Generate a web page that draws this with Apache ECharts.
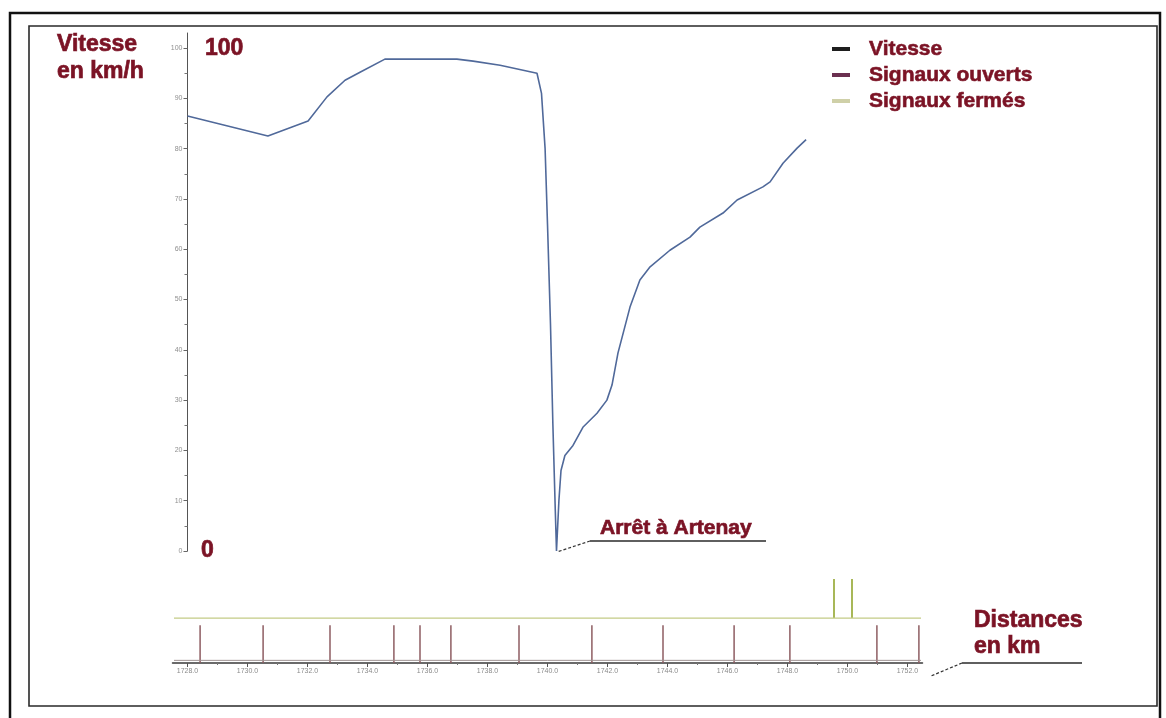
<!DOCTYPE html>
<html>
<head>
<meta charset="utf-8">
<style>
  html, body { margin: 0; padding: 0; background: #fff; }
  #chart { width: 1166px; height: 718px; }
</style>
<script src="https://cdn.jsdelivr.net/npm/echarts@6/dist/echarts.min.js"></script>
</head>
<body>
<div id="chart"></div>
<script>
// Speed profile along the line (km point, speed in km/h)
const distanceKm = [
  1728.0, 1730.68, 1732.02, 1732.65, 1733.25, 1733.75, 1734.58, 1736.98, 1737.52, 1738.42,
  1739.65, 1739.8, 1739.92, 1740.0, 1740.1, 1740.18, 1740.26, 1740.3, 1740.38, 1740.45,
  1740.58, 1740.85, 1741.18, 1741.65, 1741.98, 1742.15, 1742.35, 1742.75, 1743.08, 1743.42,
  1744.08, 1744.75, 1745.08, 1745.85, 1746.32, 1747.18, 1747.42, 1747.85, 1748.32, 1748.62
];
const speedKmh = [
  86.5, 82.5, 85.5, 90.3, 93.6, 95.2, 97.8, 97.8, 97.4, 96.6,
  95.0, 91, 80, 65, 45, 25, 8, 0, 10, 16,
  19, 21, 24.6, 27.4, 30, 33, 39.4, 48.5, 53.9, 56.5,
  59.8, 62.4, 64.4, 67.2, 69.8, 72.4, 73.4, 77.1, 80.1, 81.8
];

// Signal positions (km)
const openSignalsKm = [
  1728.42, 1730.52, 1732.75, 1734.88, 1735.75, 1736.78, 1739.05,
  1741.48, 1743.85, 1746.22, 1748.08, 1750.98, 1752.38
];
const closedSignalsKm = [1749.55, 1750.15];

// Tick labels
const speedTicks = [0, 10, 20, 30, 40, 50, 60, 70, 80, 90, 100];
const speedMinorTicks = [5, 15, 25, 35, 45, 55, 65, 75, 85, 95];
const kmTicks = [1728, 1730, 1732, 1734, 1736, 1738, 1740, 1742, 1744, 1746, 1748, 1750, 1752];
const kmMinorTicks = [1729, 1731, 1733, 1735, 1737, 1739, 1741, 1743, 1745, 1747, 1749, 1751];

// Extent of the signal tracks (km)
const trackKm = [1727.55, 1752.45];

const RED = '#7b1325';
const FONT = '"Liberation Sans", Arial, sans-serif';

// Track levels inside the signal strip (0..100)
const OPEN_TOP = 43, CLOSED_BASE = 51, CLOSED_TOP = 95.5;

const chart = echarts.init(document.getElementById('chart'), null, { renderer: 'canvas' });

function signalItem(color, width) {
  return function (params, api) {
    const p0 = api.coord([api.value(0), api.value(1)]);
    const p1 = api.coord([api.value(0), api.value(2)]);
    return {
      type: 'line',
      shape: { x1: p0[0], y1: p0[1], x2: p1[0], y2: p1[1] },
      style: { stroke: color, lineWidth: width }
    };
  };
}

// Heavy dark-red caption text
function caption(text, x, y, size) {
  return {
    type: 'text', x: x, y: y,
    style: {
      text: text, font: 'bold ' + size + 'px ' + FONT, fill: RED,
      stroke: RED, lineWidth: 0.7, verticalAlign: 'middle'
    }
  };
}

const option = {
  animation: false,
  backgroundColor: '#fff',
  grid: [
    { left: 187.5, right: 243.5, top: 33, bottom: 167 },
    { left: 172.5, right: 243.5, top: 575, bottom: 55 }
  ],
  xAxis: [
    { gridIndex: 0, type: 'value', min: 1728, max: 1752.5, show: false },
    {
      gridIndex: 1, type: 'value', min: 1727.5, max: 1752.5, position: 'bottom',
      axisLine: { lineStyle: { color: '#3a3a3a', width: 1.5 } },
      axisTick: { customValues: kmTicks, length: 4, lineStyle: { color: '#555' } },
      axisLabel: {
        customValues: kmTicks, formatter: v => v.toFixed(1),
        fontSize: 7, color: '#8a8a8a', margin: 5, fontFamily: FONT
      },
      splitLine: { show: false }
    },
    {
      gridIndex: 1, type: 'value', min: 1727.5, max: 1752.5, position: 'bottom',
      axisLine: { show: false },
      axisTick: { customValues: kmMinorTicks, length: 2, lineStyle: { color: '#777' } },
      axisLabel: { show: false },
      splitLine: { show: false }
    }
  ],
  yAxis: [
    {
      gridIndex: 0, type: 'value', min: 0, max: 103,
      axisLine: { show: true, lineStyle: { color: '#555', width: 1 } },
      axisTick: { show: true, customValues: speedTicks, length: 4, lineStyle: { color: '#666' } },
      axisLabel: { customValues: speedTicks, fontSize: 7, color: '#8f8f8f', margin: 5, fontFamily: FONT },
      splitLine: { show: false }
    },
    {
      gridIndex: 0, type: 'value', min: 0, max: 103, position: 'left',
      axisLine: { show: false },
      axisTick: { show: true, customValues: speedMinorTicks, length: 3, lineStyle: { color: '#777' } },
      axisLabel: { show: false },
      splitLine: { show: false }
    },
    { gridIndex: 1, type: 'value', min: 0, max: 100, show: false }
  ],
  legend: {
    orient: 'vertical',
    left: 827, top: 32,
    itemWidth: 18, itemHeight: 4, itemGap: 2,
    icon: 'rect',
    textStyle: {
      color: RED, fontSize: 21, fontWeight: 'bold', fontFamily: FONT,
      textBorderColor: RED, textBorderWidth: 0.6,
      lineHeight: 24, padding: [0, 0, 0, 14]
    },
    data: [
      { name: 'Vitesse', itemStyle: { color: '#1e1e1e' } },
      { name: 'Signaux ouverts', itemStyle: { color: '#6b3050' } },
      { name: 'Signaux fermés', itemStyle: { color: '#cfd0a8' } }
    ]
  },
  series: [
    {
      name: 'Vitesse', type: 'line', xAxisIndex: 0, yAxisIndex: 0,
      data: distanceKm.map((k, i) => [k, speedKmh[i]]),
      showSymbol: false, symbol: 'none',
      lineStyle: { color: '#50699a', width: 1.6 },
      itemStyle: { color: '#50699a' }
    },
    {
      name: 'Signaux ouverts', type: 'custom', xAxisIndex: 1, yAxisIndex: 2,
      data: openSignalsKm.map(k => [k, 0, OPEN_TOP]),
      encode: { x: 0, y: [1, 2] },
      itemStyle: { color: '#8e5d62' },
      renderItem: signalItem('#8e5d62', 1.5)
    },
    {
      name: 'Signaux fermés', type: 'custom', xAxisIndex: 1, yAxisIndex: 2,
      data: closedSignalsKm.map(k => [k, CLOSED_BASE, CLOSED_TOP]),
      encode: { x: 0, y: [1, 2] },
      itemStyle: { color: '#9fb046' },
      renderItem: signalItem('#9fb046', 1.8)
    },
    {
      name: 'voie fermés', type: 'line', xAxisIndex: 1, yAxisIndex: 2,
      data: trackKm.map(k => [k, CLOSED_BASE]),
      showSymbol: false, symbol: 'none',
      lineStyle: { color: '#c3cb86', width: 1.3 }
    },
    {
      name: 'voie ouverts', type: 'line', xAxisIndex: 1, yAxisIndex: 2,
      data: trackKm.map(k => [k, 3]),
      showSymbol: false, symbol: 'none',
      lineStyle: { color: '#a09494', width: 1 }
    }
  ],
  graphic: [
    // frames
    { type: 'rect', shape: { x: 10, y: 13, width: 1150, height: 720 }, style: { fill: 'none', stroke: '#111', lineWidth: 2.5 }, silent: true },
    { type: 'rect', shape: { x: 29, y: 26, width: 1128, height: 680 }, style: { fill: 'none', stroke: '#2a2a2a', lineWidth: 1.6 }, silent: true },
    // axis titles
    caption('Vitesse', 57, 45, 23),
    caption('en km/h', 57, 72, 23),
    caption('100', 205, 49, 23),
    caption('0', 201, 551, 23),
    // stop annotation
    caption('Arrêt à Artenay', 600, 528, 21),
    { type: 'line', shape: { x1: 590, y1: 541, x2: 766, y2: 541 }, style: { stroke: '#2a2a2a', lineWidth: 1.5 } },
    { type: 'line', shape: { x1: 590, y1: 541, x2: 557, y2: 552 }, style: { stroke: '#333', lineWidth: 1.2, lineDash: [3, 2] } },
    // distance annotation
    caption('Distances', 974, 621, 23),
    caption('en km', 974, 647, 23),
    { type: 'line', shape: { x1: 962, y1: 663, x2: 1082, y2: 663 }, style: { stroke: '#2a2a2a', lineWidth: 1.5 } },
    { type: 'line', shape: { x1: 962, y1: 663, x2: 931, y2: 676 }, style: { stroke: '#333', lineWidth: 1.2, lineDash: [3, 2] } }
  ]
};

chart.setOption(option);
</script>
</body>
</html>
